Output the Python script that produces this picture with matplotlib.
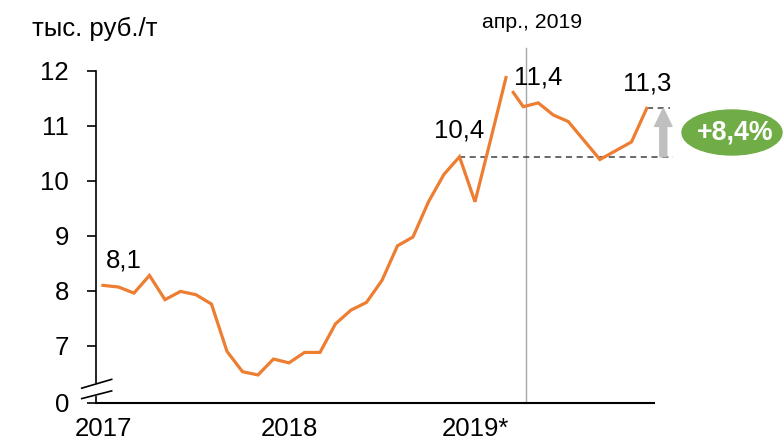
import matplotlib
matplotlib.use("Agg")
import matplotlib.pyplot as plt
import matplotlib.patches as mpatches

plt.rcParams['font.family'] = ['Liberation Sans', 'DejaVu Sans']

# monthly prices, Jan 2017 .. Mar 2019 (thousand rub/t)
monthly_pos = list(range(27))
monthly_vals = [8.10, 8.07, 7.96, 8.28, 7.84, 7.99, 7.93, 7.76, 6.90, 6.53,
                6.47, 6.76, 6.69, 6.88, 6.88, 7.40, 7.65, 7.79, 8.19, 8.82,
                8.98, 9.62, 10.12, 10.44, 9.62, 10.74, 11.88]

# weekly prices from April 2019
weekly_pos = [26.47, 27.12, 28.08, 29.05, 30.02, 32.06, 34.10, 35.08]
weekly_vals = [11.61, 11.35, 11.42, 11.20, 11.08, 10.39, 10.71, 11.32]

year_pos = [0, 12, 24]
year_labels = ["2017", "2018", "2019*"]
ytick_vals = [5.96, 7, 8, 9, 10, 11, 12]
ytick_labels = ["0", "7", "8", "9", "10", "11", "12"]

apr_pos = 27.29
base_val = 10.44
end_val = 11.32
growth = "+8,4%"

orange = "#ED7D31"
W, H = 783, 441

fig = plt.figure(figsize=(W / 100, H / 100), dpi=100)
ax = fig.add_axes([96 / W, 1 - 403 / H, (654 - 96) / W, (403 - 71) / H])

ax.plot(monthly_pos, monthly_vals, color=orange, lw=2.3, solid_joinstyle='miter', zorder=3)
ax.plot(weekly_pos, weekly_vals, color=orange, lw=2.3, solid_joinstyle='miter', zorder=3)

ax.set_xlim(-0.45, 35.55)
ax.set_ylim(5.96, 12)

ax.set_yticks(ytick_vals)
ax.set_yticklabels(ytick_labels)
ax.set_xticks(year_pos)
ax.set_xticklabels(year_labels)
ax.tick_params(axis='y', length=6.5, width=1.2, pad=13, labelsize=18.5, direction='out')
ax.tick_params(axis='x', length=0, pad=10, labelsize=18.5)

for s in ['top', 'right']:
    ax.spines[s].set_visible(False)
ax.spines['left'].set_linewidth(1.2)
ax.spines['bottom'].set_linewidth(1.5)

# axis break marks
ax.fill([-1.37, 0.56, 0.56, -1.37], [6.23, 6.39, 6.18, 6.03], color='white',
        clip_on=False, zorder=4)
ax.plot([-1.37, 0.56], [6.23, 6.39], color='black', lw=1.2, clip_on=False, zorder=5)
ax.plot([-1.37, 0.56], [6.04, 6.18], color='black', lw=1.2, clip_on=False, zorder=5)

# April marker
ax.plot([apr_pos, apr_pos], [5.96, 12.42], color='#A6A6A6', lw=1, clip_on=False, zorder=2)
ax.text(apr_pos + 0.4, 12.88, "апр., 2019", ha='center', va='center', fontsize=15.3)

# reference lines and arrow
ax.plot([monthly_pos[23], 36.75], [base_val, base_val], color='#404040', lw=1.1,
        ls=(0, (4, 3)), clip_on=False, zorder=2)
ax.plot([weekly_pos[-1], 36.6], [end_val, end_val], color='#404040', lw=1.1,
        ls=(0, (4, 3)), clip_on=False, zorder=2)
arrow = mpatches.FancyArrowPatch((36.15, base_val), (36.15, end_val),
                                 arrowstyle='simple,head_width=1.25,head_length=1.3,tail_width=0.5',
                                 mutation_scale=10, color='#BFBFBF', shrinkA=0, shrinkB=0,
                                 clip_on=False, zorder=2)
ax.add_patch(arrow)

# value labels
labels = [
    ("8,1", monthly_pos[0], monthly_vals[0], 21, 25),
    ("10,4", monthly_pos[23], monthly_vals[23], 0, 26),
    ("11,4", weekly_pos[2], weekly_vals[2], 0, 25),
    ("11,3", weekly_pos[-1], weekly_vals[-1], 0, 25),
]
for txt, x, y, dx, dy in labels:
    ax.annotate(txt, (x, y), xytext=(dx, dy), textcoords='offset pixels',
                ha='center', va='center', fontsize=18.5)

# growth badge
ell = mpatches.Ellipse((732 / W, 1 - 132.5 / H), 100 / W, 45 / H,
                       transform=fig.transFigure, color='#70AD47')
fig.add_artist(ell)
fig.text(735 / W, 1 - 133 / H, growth, ha='center', va='center', fontsize=19.3,
         fontweight='bold', color='white')

fig.text(32 / W, 1 - 36 / H, "тыс. руб./т", ha='left', va='baseline', fontsize=18.5)

fig.savefig("out.png", dpi=100)
